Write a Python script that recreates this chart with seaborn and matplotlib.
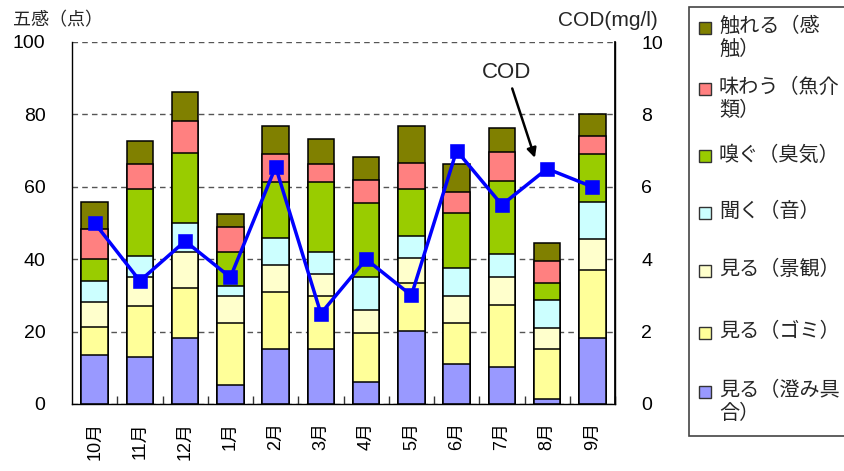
import numpy as np
import pandas as pd
import matplotlib
matplotlib.use("Agg")
import matplotlib.pyplot as plt
import seaborn as sns
from matplotlib.patches import Rectangle

# ---- data ----
months = ["10月", "11月", "12月", "1月", "2月", "3月", "4月", "5月", "6月", "7月", "8月", "9月"]
# series from bottom to top
names = ["見る（澄み具\n合）", "見る（ゴミ）", "見る（景観）", "聞く（音）", "嗅ぐ（臭気）", "味わう（魚介\n類）", "触れる（感\n触）"]
sumi   = [13.6, 13.1, 18.2, 5.3, 15.1, 15.1, 6.2, 20.1, 11.1, 10.2, 1.4, 18.2]
gomi   = [7.6, 14.1, 13.9, 17.1, 15.9, 14.8, 13.3, 13.4, 11.3, 17.2, 13.7, 18.8]
keikan = [6.9, 8.0, 9.8, 7.5, 7.5, 6.0, 6.6, 6.8, 7.5, 7.6, 6.0, 8.5]
oto    = [6.0, 5.8, 8.0, 2.8, 7.3, 6.0, 8.9, 6.0, 7.6, 6.4, 7.5, 10.4]
shuki  = [5.9, 18.3, 19.3, 9.2, 15.4, 19.3, 20.4, 13.0, 15.4, 20.3, 4.8, 13.1]
gyokai = [8.3, 7.0, 9.0, 7.1, 7.8, 5.1, 6.4, 7.4, 5.8, 8.0, 6.0, 5.0]
kanshoku = [7.6, 6.4, 8.0, 3.5, 7.8, 6.9, 6.5, 10.1, 7.6, 6.5, 5.0, 6.0]
cod = [5.0, 3.4, 4.5, 3.5, 6.55, 2.5, 4.0, 3.0, 7.0, 5.5, 6.5, 6.0]
left_ticks = [0, 20, 40, 60, 80, 100]
right_ticks = [0, 2, 4, 6, 8, 10]

colors = ["#9999FF", "#FFFF99", "#FFFFCC", "#CCFFFF", "#99CC00", "#FF8080", "#808000"]
series = [sumi, gomi, keikan, oto, shuki, gyokai, kanshoku]

sns.set_theme(style="white")
plt.rcParams['font.family'] = ['Liberation Sans', 'Noto Sans CJK JP', 'DejaVu Sans']

W, H = 845, 471
fig = plt.figure(figsize=(W / 100, H / 100), dpi=100)
fig.patch.set_facecolor("white")

def fx(x):
    return x / W

def fy(y):
    return 1 - y / H

ax = fig.add_axes([fx(72), fy(404), fx(615) - fx(72), fy(42) - fy(404)])

df = pd.DataFrame({"month": months})
cum = np.zeros(len(months))
cums = []
for s in series:
    cum = cum + np.array(s)
    cums.append(cum.copy())

for c, col in reversed(list(zip(cums, colors))):
    sns.barplot(x=df["month"], y=c, color=col, saturation=1, edgecolor="black",
                linewidth=1.1, width=0.59, errorbar=None, order=months, ax=ax)

ax.set_ylim(0, 100)
ax.set_xlim(-0.5, len(months) - 0.5)
ax.set_yticks(left_ticks)
ax.set_xlabel("")
ax.set_ylabel("")
ax.yaxis.grid(True, color="#555555", linestyle=(0, (4, 3)), linewidth=1.0)
ax.xaxis.grid(False)
ax.set_axisbelow(True)
for side in ["left", "bottom", "right"]:
    ax.spines[side].set_visible(True)
    ax.spines[side].set_color("black")
    ax.spines[side].set_linewidth(1.0)
ax.spines["top"].set_visible(False)
ax.tick_params(axis="y", length=0, pad=19, labelsize=14, colors="black")
ax.tick_params(axis="x", which="major", length=0, pad=13, labelsize=13, rotation=90, colors="black")
ax.set_xticks(np.arange(len(months)) + 0.5, minor=True)
ax.tick_params(axis="x", which="minor", direction="in", length=5.5, width=1, color="#333333", bottom=True)

ax2 = ax.twinx()
sns.pointplot(x=df["month"], y=cod, order=months, color="#0000FF", markers="s",
              markersize=9, linewidth=2.5, errorbar=None, ax=ax2)
ax2.set_ylim(0, 10)
ax2.set_xlim(-0.5, len(months) - 0.5)
ax2.set_yticks(right_ticks)
ax2.set_ylabel("")
ax2.set_xlabel("")
ax2.grid(False)
for side in ["left", "bottom", "top"]:
    ax2.spines[side].set_visible(False)
ax2.spines["right"].set_visible(True)
ax2.spines["right"].set_color("black")
ax2.tick_params(axis="y", length=0, pad=19, labelsize=14, colors="black")

ax2.annotate("COD", xy=(9.73, 6.8), xytext=(9.11, 9.17), fontsize=16,
             ha="center", va="center",
             arrowprops=dict(arrowstyle="-|>", color="black", lw=1.8, mutation_scale=14,
                             shrinkA=2, shrinkB=0))

fig.text(fx(13), fy(21), "五感（点）", fontsize=13, ha="left", va="center")
fig.text(fx(658), fy(20), "COD(mg/l)", fontsize=15, ha="right", va="center")

# legend box
fig.add_artist(Rectangle((fx(689), fy(436)), fx(870) - fx(689), fy(7) - fy(436),
                         transform=fig.transFigure, facecolor="white",
                         edgecolor="#444444", linewidth=1.2))
leg_y = [27, 88, 155, 212, 270, 332, 391]
for name, col, yy in zip(reversed(names), reversed(colors), leg_y):
    fig.add_artist(Rectangle((fx(699), fy(yy + 6.5)), fx(12), 12 / H,
                             transform=fig.transFigure, facecolor=col,
                             edgecolor="#333333", linewidth=1))
    fig.text(fx(719), fy(yy - 10), name, fontsize=14.5, ha="left", va="top",
             linespacing=1.25)

fig.savefig("out.png", dpi=100)
